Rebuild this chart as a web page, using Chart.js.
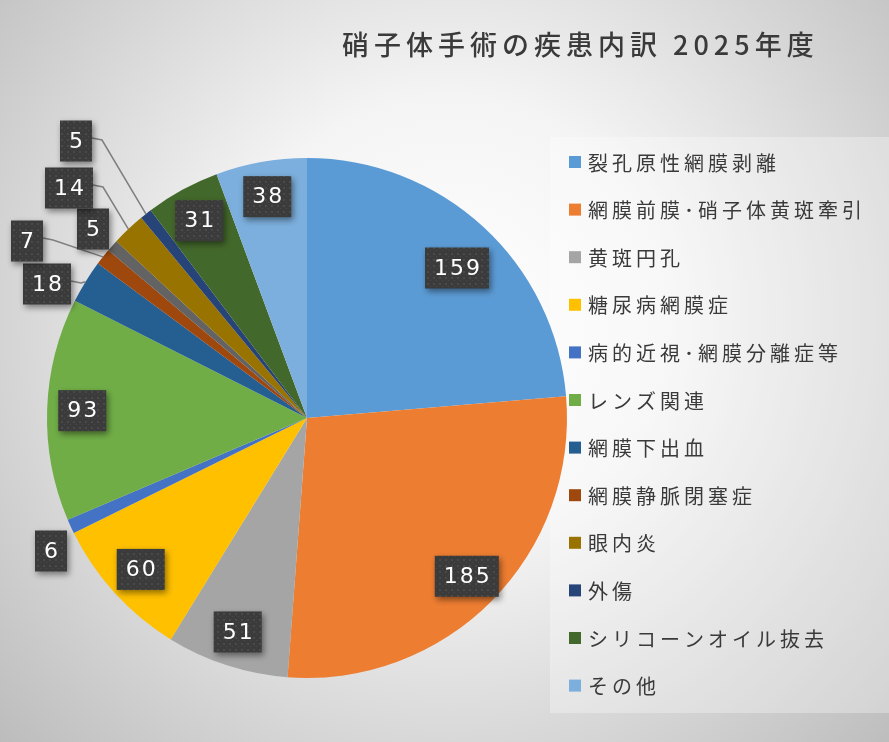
<!DOCTYPE html>
<html>
<head>
<meta charset="utf-8">
<script src="https://cdn.jsdelivr.net/npm/chart.js@4"></script>
<style>
  body { margin: 0; background: #fff; }
  #wrap { width: 889px; height: 742px; position: relative; }
</style>
</head>
<body>
<div id="wrap"><canvas id="myChart"></canvas></div>
<script>
var chartTitle = "硝子体手術の疾患内訳 2025年度";
// 9th slice has no legend entry in the original
var categories = ["裂孔原性網膜剥離", "網膜前膜･硝子体黄斑牽引", "黄斑円孔", "糖尿病網膜症",
    "病的近視･網膜分離症等", "レンズ関連", "網膜下出血", "網膜静脈閉塞症", "",
    "眼内炎", "外傷", "シリコーンオイル抜去", "その他"];
var counts = [159, 185, 51, 60, 6, 93, 18, 7, 5, 14, 5, 31, 38];
var sliceColors = ["#5B9BD5", "#ED7D31", "#A5A5A5", "#FFC000", "#4472C4", "#70AD47",
    "#255E91", "#9E480E", "#636363", "#997300", "#264478", "#43682B", "#7CAFDD"];

// label placement overrides (offset from pie centre)
var callouts = {
    0: { dx: 150, dy: -150, line: false },
    4: { dx: -256, dy: 133, line: false },
    6: { dx: -260, dy: -134, line: true },
    7: { dx: -280, dy: -177, line: true },
    8: { dx: -214, dy: -189, line: false },
    9: { dx: -238, dy: -230, line: true },
    10: { dx: -231, dy: -277, line: true }
};

var CJK = '"Noto Sans CJK JP", "Noto Sans", sans-serif';

// dotted dark texture for the value boxes
function makePattern(ctx){
    let c = document.createElement('canvas');
    c.width = 6; c.height = 6;
    let p = c.getContext('2d');
    p.fillStyle = '#3b3b3b';
    p.fillRect(0, 0, 6, 6);
    p.fillStyle = '#4a4a4a';
    p.fillRect(1, 1, 2, 2);
    p.fillRect(4, 4, 1, 1);
    return ctx.createPattern(c, 'repeat');
}

var backdrop = {
    id: 'backdrop',
    beforeDraw(chart){
        let ctx = chart.ctx;
        let w = chart.width, h = chart.height;
        ctx.save();
        let g = ctx.createRadialGradient(450, 320, 0, 450, 320, 640);
        g.addColorStop(0, '#ffffff');
        g.addColorStop(0.35, '#f4f4f4');
        g.addColorStop(1, '#b9b9b9');
        ctx.fillStyle = g;
        ctx.fillRect(0, 0, w, h);
        // legend panel
        ctx.fillStyle = 'rgba(255,255,255,0.3)';
        ctx.fillRect(550, 137, w - 550, 576);
        ctx.restore();
    }
};

var decorations = {
    id: 'decorations',
    afterDatasetsDraw(chart){
        let ctx = chart.ctx;
        let meta = chart.getDatasetMeta(0);
        let values = chart.data.datasets[0].data;
        ctx.save();

        // title
        ctx.fillStyle = '#3a3a3a';
        ctx.font = '500 27px ' + CJK;
        ctx.letterSpacing = '5px';
        ctx.textAlign = 'left';
        ctx.textBaseline = 'middle';
        ctx.fillText(chartTitle, 342, 45);

        // legend
        ctx.font = '20px ' + CJK;
        ctx.letterSpacing = '4px';
        let row = 0;
        chart.data.labels.forEach(function (lab, i){
            if (!lab) return;
            let y = 162 + row * 47.6;
            ctx.fillStyle = sliceColors[i];
            ctx.fillRect(569, y - 6, 12, 12);
            ctx.fillStyle = '#3a3a3a';
            ctx.fillText(lab, 588, y + 1);
            row++;
        });

        // value boxes
        let pattern = makePattern(ctx);
        ctx.font = '22px "DejaVu Sans", sans-serif';
        ctx.letterSpacing = '2px';
        meta.data.forEach(function (arc, i){
            let cx = arc.x, cy = arc.y, r = arc.outerRadius;
            let mid = (arc.startAngle + arc.endAngle) / 2;
            let ex = cx + Math.cos(mid) * r, ey = cy + Math.sin(mid) * r;
            let bx, by;
            let co = callouts[i];
            if (co){
                bx = cx + co.dx; by = cy + co.dy;
            }else{
                bx = cx + Math.cos(mid) * r * 0.865;
                by = cy + Math.sin(mid) * r * 0.865;
            }
            let txt = String(values[i]);
            let tw = ctx.measureText(txt).width;
            let bw = Math.round(tw + 16), bh = 41;
            if (co && co.line){
                ctx.strokeStyle = '#7f7f7f';
                ctx.lineWidth = 1.5;
                ctx.beginPath();
                ctx.moveTo(bx + bw / 2, by - 3);
                ctx.lineTo(bx + bw / 2 + 10, by - 1);
                ctx.lineTo(ex, ey);
                ctx.stroke();
            }
            ctx.save();
            ctx.shadowColor = 'rgba(0,0,0,0.45)';
            ctx.shadowBlur = 6;
            ctx.shadowOffsetX = 2;
            ctx.shadowOffsetY = 3;
            ctx.fillStyle = pattern;
            ctx.fillRect(bx - bw / 2, by - bh / 2, bw, bh);
            ctx.restore();
            ctx.fillStyle = '#ffffff';
            ctx.textAlign = 'center';
            ctx.fillText(txt, bx + 1, by + 1);
        });
        ctx.restore();
    }
};

new Chart("myChart", {
    type: "pie",
    data: {
        labels: categories,
        datasets: [{
            data: counts,
            backgroundColor: sliceColors,
            borderWidth: 0
        }]
    },
    options: {
        responsive: true,
        maintainAspectRatio: false,
        animation: false,
        layout: {
            padding: { left: 47, top: 158, right: 322, bottom: 64 }
        },
        plugins: {
            legend: { display: false },
            title: { display: false },
            tooltip: { enabled: false }
        }
    },
    plugins: [backdrop, decorations]
});
</script>
</body>
</html>
